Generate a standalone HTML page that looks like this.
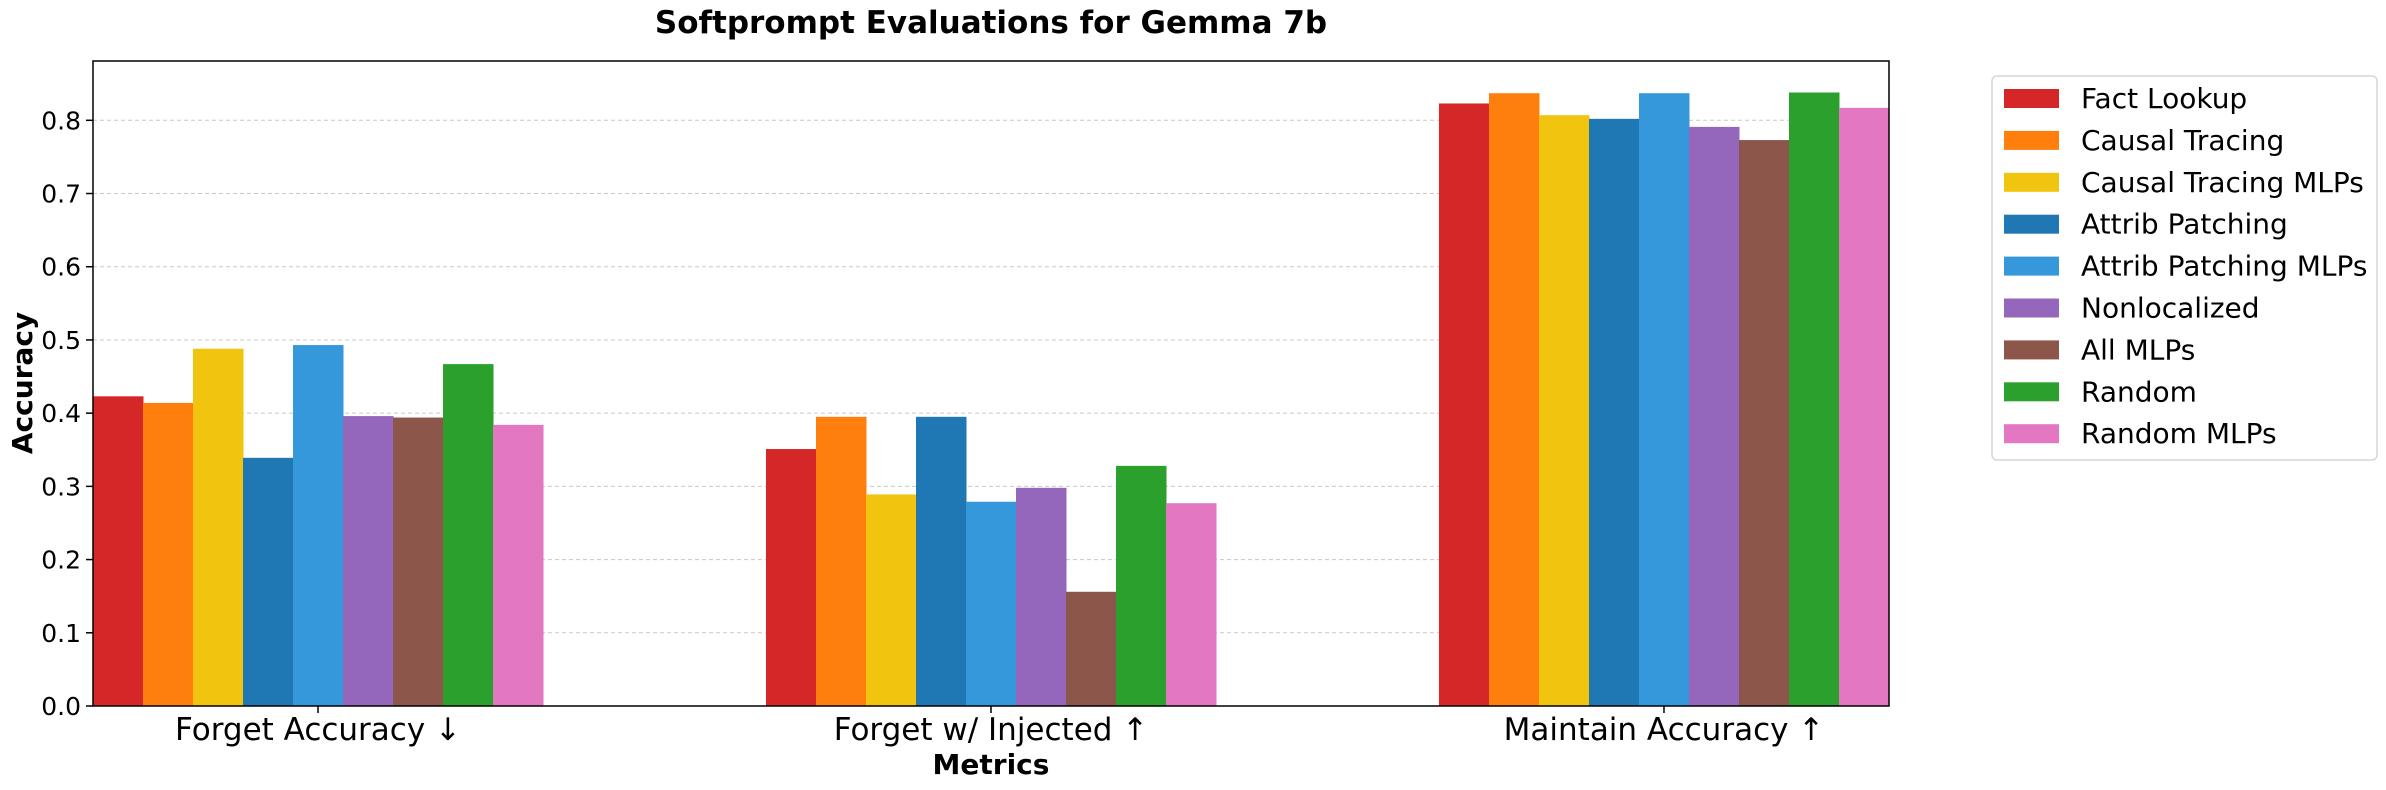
<!DOCTYPE html>
<html><head><meta charset="utf-8"><style>
html,body{margin:0;padding:0;background:#fff;}
svg{display:block;font-family:"DejaVu Sans","Liberation Sans",sans-serif;}
</style></head><body>
<svg id="chart" width="2386" height="790" viewBox="0 0 2386 790" xmlns="http://www.w3.org/2000/svg">
<text x="991" y="33" text-anchor="middle" font-size="31" font-weight="bold">Softprompt Evaluations for Gemma 7b</text>
<g id="grid"></g>
<g id="bars"></g>
<rect x="93" y="61" width="1796" height="645" fill="none" stroke="#000" stroke-width="1.5"/>
<g id="yticks"></g>
<g id="xticks"></g>
<text x="991" y="774" text-anchor="middle" font-size="28" font-weight="bold">Metrics</text>
<text transform="translate(32,383) rotate(-90)" text-anchor="middle" font-size="28" font-weight="bold">Accuracy</text>
<g id="legend"></g>
</svg>
<script>
const categories = ["Forget Accuracy ↓", "Forget w/ Injected ↑", "Maintain Accuracy ↑"];
const seriesNames = ["Fact Lookup","Causal Tracing","Causal Tracing MLPs","Attrib Patching","Attrib Patching MLPs","Nonlocalized","All MLPs","Random","Random MLPs"];
const seriesColors = ["#d62728","#ff7f0e","#f1c40f","#1f77b4","#3498db","#9467bd","#8c564b","#2ca02c","#e377c2"];
const factLookup = [0.423, 0.351, 0.823];
const causalTracing = [0.414, 0.395, 0.837];
const causalTracingMLPs = [0.488, 0.289, 0.807];
const attribPatching = [0.339, 0.395, 0.802];
const attribPatchingMLPs = [0.493, 0.279, 0.837];
const nonlocalized = [0.396, 0.298, 0.791];
const allMLPs = [0.394, 0.156, 0.773];
const random = [0.467, 0.328, 0.838];
const randomMLPs = [0.384, 0.277, 0.817];
const yTicks = [0.0,0.1,0.2,0.3,0.4,0.5,0.6,0.7,0.8];
const seriesValues = [factLookup,causalTracing,causalTracingMLPs,attribPatching,attribPatchingMLPs,nonlocalized,allMLPs,random,randomMLPs];

const NS="http://www.w3.org/2000/svg";
const L=93,R=1889,T=61,B=706;
const yMax=0.881;
const barW=0.0743;
const xMin=-4.5*barW, xMax=(categories.length-1)+4.5*barW;
const xs=v=>L+(v-xMin)/(xMax-xMin)*(R-L);
const ys=v=>B-v/yMax*(B-T);
function mk(tag,attrs,parent){const e=document.createElementNS(NS,tag);for(const k in attrs)e.setAttribute(k,attrs[k]);parent.appendChild(e);return e;}
const grid=document.getElementById('grid'),yt=document.getElementById('yticks'),xt=document.getElementById('xticks'),bars=document.getElementById('bars'),leg=document.getElementById('legend');
yTicks.forEach(t=>{
  const y=ys(t);
  const g=mk('line',{x1:L,x2:R,y1:y,y2:y,stroke:'#c8c8c8','stroke-width':1,'stroke-dasharray':'4,3'},grid);
  
  
  const tk=mk('line',{x1:L-7,x2:L,y1:y,y2:y,stroke:'#000','stroke-width':1.5},yt);
  
  
  const tx=mk('text',{x:L-12,y:y+9,'text-anchor':'end','font-size':25},yt);
  tx.textContent=t.toFixed(1);
  
  
});
categories.forEach((c,i)=>{
  const x=xs(i);
  const tk=mk('line',{x1:x,x2:x,y1:B,y2:B+7,stroke:'#000','stroke-width':1.5},xt);
  
  
  const tx=mk('text',{x:x,y:740,'text-anchor':'middle','font-size':31},xt);
  tx.textContent=c;
  
  
  seriesValues.forEach((vals,s)=>{
    const c0=i+(s-4.5)*barW;
    const x0=xs(c0),x1=xs(c0+barW);
    const r=mk('rect',{x:x0,y:ys(vals[i]),width:x1-x0+0.5,height:ys(0)-ys(vals[i]),fill:seriesColors[s]},bars);
    
    
  });
});
const lb=mk('rect',{x:1992,y:76,width:385,height:384,rx:5,fill:'#fff',stroke:'#d6d6d6','stroke-width':1.5},leg);


seriesNames.forEach((n,s)=>{
  const y=98+s*41.9;
  const p=mk('rect',{x:2004,y:y-9,width:55,height:19,fill:seriesColors[s]},leg);
  
  
  const t=mk('text',{x:2081,y:y+10,'font-size':28},leg);
  t.textContent=n;
  
  
});
</script>
</body></html>
